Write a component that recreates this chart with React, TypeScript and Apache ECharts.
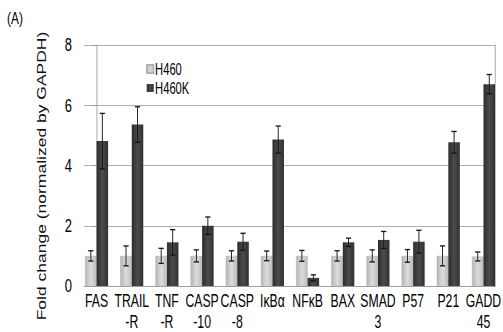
import React, { useEffect, useRef } from "react";
import * as echarts from "echarts";

const categories = ["FAS", "TRAIL\n-R", "TNF\n-R", "CASP\n-10", "CASP\n-8", "IκBα", "NFκB", "BAX", "SMAD\n3", "P57", "P21", "GADD\n45"];
const h460 = [1, 1, 1, 1, 1, 1, 1, 1, 1, 1, 1, 0.98];
const h460Err = [0.17, 0.33, 0.25, 0.2, 0.17, 0.16, 0.18, 0.17, 0.2, 0.21, 0.33, 0.15];
const h460k = [4.81, 5.36, 1.45, 2.0, 1.47, 4.86, 0.27, 1.45, 1.53, 1.47, 4.77, 6.7];
const h460kErr = [0.92, 0.59, 0.42, 0.29, 0.28, 0.45, 0.1, 0.14, 0.28, 0.38, 0.36, 0.32];
const yTicks = [0, 2, 4, 6, 8];
const seriesNames = ["H460", "H460K"];

// The reference picture is horizontally compressed; render wider and squeeze with CSS.
const S = 0.7;
const W = 503 / S;
const H = 332;
const FONT = "'Liberation Sans', Arial, sans-serif";
const BAR_W = 11.5 / S;

export default function App() {
  const ref = useRef<HTMLDivElement>(null);
  useEffect(() => {
    if (!ref.current) return;
    const chart = echarts.init(ref.current, null, { renderer: "svg" });
    const lightGrad = new echarts.graphic.LinearGradient(0, 0, 1, 0, [
      { offset: 0, color: "#b4b4b4" },
      { offset: 0.5, color: "#dcdcdc" },
      { offset: 1, color: "#bcbcbc" },
    ]);
    const darkGrad = new echarts.graphic.LinearGradient(0, 0, 1, 0, [
      { offset: 0, color: "#2c2c2c" },
      { offset: 0.5, color: "#4c4c4c" },
      { offset: 1, color: "#303030" },
    ]);
    const errSeries = (vals: number[], errs: number[], dir: number) => ({
      type: "custom",
      z: 5,
      silent: true,
      data: vals.map((v, i) => [i, v, errs[i]]),
      renderItem: (params: any, api: any) => {
        const i = api.value(0);
        const v = api.value(1);
        const e = api.value(2);
        const top = api.coord([i, v + e]);
        const bot = api.coord([i, v - e]);
        const x = top[0] + (dir * BAR_W) / 2;
        const cap = 2.6 / S;
        const st = { stroke: "#111", lineWidth: 1.3 };
        return {
          type: "group",
          children: [
            { type: "line", shape: { x1: x, y1: top[1], x2: x, y2: bot[1] }, style: st },
            { type: "line", shape: { x1: x - cap, y1: top[1], x2: x + cap, y2: top[1] }, style: st },
            { type: "line", shape: { x1: x - cap, y1: bot[1], x2: x + cap, y2: bot[1] }, style: st },
          ],
        };
      },
    });
    chart.setOption({
      animation: false,
      grid: { left: 84 / S, right: 6 / S, top: 45, bottom: 44, containLabel: false },
      legend: {
        left: 146 / S,
        top: 61,
        orient: "vertical",
        itemWidth: 7 / S,
        itemHeight: 8,
        itemGap: 3,
        padding: 0,
        icon: "rect",
        textStyle: { fontFamily: FONT, fontSize: 16, color: "#000", padding: [0, 0, 0, -3] },
        data: seriesNames,
      },
      xAxis: {
        type: "value",
        min: -0.358,
        max: 11.332,
        splitLine: { show: false },
        axisTick: { show: false },
        axisLine: { show: true, lineStyle: { color: "#9a9a9a", width: 1 } },
        axisLabel: {
          customValues: categories.map((_, i) => i),
          formatter: (v: number) => categories[Math.round(v)] ?? "",
          showMinLabel: true,
          showMaxLabel: true,
          fontFamily: FONT,
          fontSize: 17.5,
          lineHeight: 21,
          color: "#000",
          margin: 4,
        },
      },
      yAxis: [
        {
          type: "value",
          min: 0,
          max: 8,
          interval: 2,
          axisLine: { show: true, lineStyle: { color: "#9a9a9a", width: 1 } },
          axisTick: { show: true, length: 4 / S, lineStyle: { color: "#9a9a9a" } },
          splitLine: { show: true, lineStyle: { color: "#a0a0a0", width: 1 } },
          axisLabel: {
            fontFamily: FONT,
            fontSize: 18.5,
            color: "#000",
            margin: 12 / S,
            formatter: (v: number) => (yTicks.includes(v) ? String(v) : ""),
          },
        },
        {
          type: "value",
          position: "right",
          min: 0,
          max: 8,
          interval: 2,
          axisLine: { show: true, lineStyle: { color: "#9a9a9a", width: 1 } },
          axisTick: { show: false },
          splitLine: { show: false },
          axisLabel: { show: false },
        },
      ],
      series: [
        {
          name: seriesNames[0],
          type: "bar",
          barWidth: BAR_W,
          barGap: "0%",
          data: h460.map((v, i) => [i, v]),
          itemStyle: { color: lightGrad, borderColor: "#b0b0b0", borderWidth: 0.5 },
        },
        {
          name: seriesNames[1],
          type: "bar",
          barWidth: BAR_W,
          barGap: "0%",
          data: h460k.map((v, i) => [i, v]),
          itemStyle: { color: darkGrad },
        },
        errSeries(h460, h460Err, -1),
        errSeries(h460k, h460kErr, 1),
      ],
      graphic: [
        {
          type: "text",
          left: 7 / S,
          top: 10,
          style: { text: "(A)", fontFamily: FONT, fontSize: 17, fill: "#000" },
        },
        {
          type: "text",
          x: 42 / S,
          y: 176,
          rotation: Math.PI / 2,
          style: {
            text: "Fold change (normalized by GAPDH)",
            fontFamily: FONT,
            fontSize: 17.5,
            fill: "#111",
            align: "center",
            verticalAlign: "middle",
          },
        },
      ],
    });
    return () => chart.dispose();
  }, []);
  return (
    <div style={{ position: "fixed", left: 0, top: 0, width: 503, height: H, overflow: "hidden", background: "#fff" }}>
      <div
        ref={ref}
        style={{ width: W, height: H, transform: `scaleX(${S})`, transformOrigin: "0 0" }}
      />
    </div>
  );
}
